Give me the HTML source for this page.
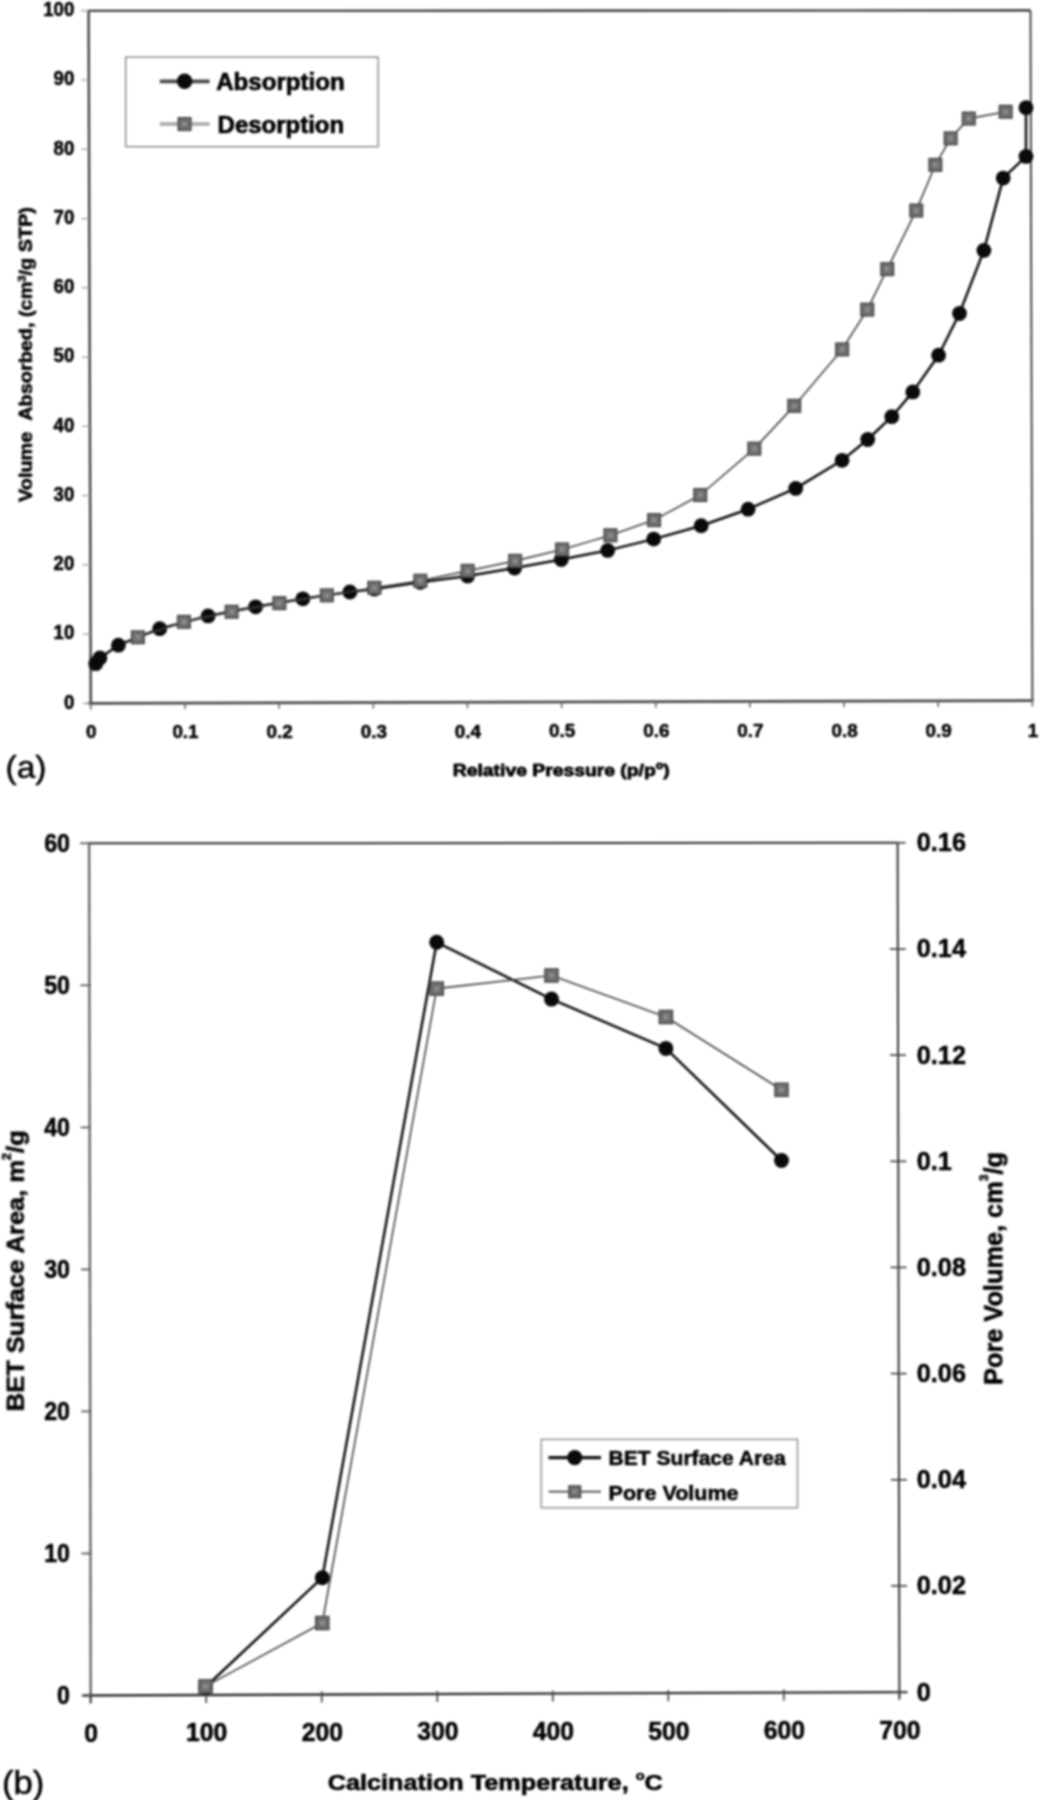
<!DOCTYPE html>
<html lang="en">
<head>
<meta charset="utf-8">
<title>Figure: adsorption isotherm and BET surface area</title>
<style>
html,body{margin:0;padding:0;background:#fff;}
body{width:1054px;height:1800px;overflow:hidden;}
svg{display:block;font-family:'Liberation Sans', Arial, sans-serif;}
</style>
</head>
<body>
<svg width="1054" height="1800" viewBox="0 0 1054 1800">
<defs><filter id="soft" color-interpolation-filters="sRGB" x="-2%" y="-2%" width="104%" height="104%"><feGaussianBlur stdDeviation="0.95"/></filter></defs>
<rect width="1054" height="1800" fill="#fff"/>
<g filter="url(#soft)">
<line x1="88.9" y1="10.8" x2="1030.5" y2="10.4" stroke="#262626" stroke-width="2.1"/>
<line x1="1030.5" y1="10.4" x2="1032.4" y2="700.6" stroke="#333" stroke-width="1.8"/>
<line x1="87.8" y1="703.4" x2="1033.4" y2="700.6" stroke="#4a4a4a" stroke-width="2.8"/>
<line x1="88.6" y1="9.8" x2="90.8" y2="704.4" stroke="#454545" stroke-width="2.5"/>
<line x1="82.8" y1="703.4" x2="90.8" y2="703.4" stroke="#999" stroke-width="1.2"/>
<text transform="translate(74.3,708.6) scale(0.930,1)" font-size="20" font-weight="bold" text-anchor="end" fill="#000" stroke="#000" stroke-width="0.5" stroke-linejoin="round">0</text>
<line x1="82.6" y1="634.1" x2="90.6" y2="634.1" stroke="#999" stroke-width="1.2"/>
<text transform="translate(74.3,639.3) scale(0.930,1)" font-size="20" font-weight="bold" text-anchor="end" fill="#000" stroke="#000" stroke-width="0.5" stroke-linejoin="round">10</text>
<line x1="82.4" y1="564.9" x2="90.4" y2="564.9" stroke="#999" stroke-width="1.2"/>
<text transform="translate(74.3,570.1) scale(0.930,1)" font-size="20" font-weight="bold" text-anchor="end" fill="#000" stroke="#000" stroke-width="0.5" stroke-linejoin="round">20</text>
<line x1="82.2" y1="495.6" x2="90.2" y2="495.6" stroke="#999" stroke-width="1.2"/>
<text transform="translate(74.3,500.8) scale(0.930,1)" font-size="20" font-weight="bold" text-anchor="end" fill="#000" stroke="#000" stroke-width="0.5" stroke-linejoin="round">30</text>
<line x1="82.0" y1="426.4" x2="90.0" y2="426.4" stroke="#999" stroke-width="1.2"/>
<text transform="translate(74.3,431.6) scale(0.930,1)" font-size="20" font-weight="bold" text-anchor="end" fill="#000" stroke="#000" stroke-width="0.5" stroke-linejoin="round">40</text>
<line x1="81.8" y1="357.1" x2="89.8" y2="357.1" stroke="#999" stroke-width="1.2"/>
<text transform="translate(74.3,362.3) scale(0.930,1)" font-size="20" font-weight="bold" text-anchor="end" fill="#000" stroke="#000" stroke-width="0.5" stroke-linejoin="round">50</text>
<line x1="81.7" y1="287.8" x2="89.7" y2="287.8" stroke="#999" stroke-width="1.2"/>
<text transform="translate(74.3,293.0) scale(0.930,1)" font-size="20" font-weight="bold" text-anchor="end" fill="#000" stroke="#000" stroke-width="0.5" stroke-linejoin="round">60</text>
<line x1="81.5" y1="218.6" x2="89.5" y2="218.6" stroke="#999" stroke-width="1.2"/>
<text transform="translate(74.3,223.8) scale(0.930,1)" font-size="20" font-weight="bold" text-anchor="end" fill="#000" stroke="#000" stroke-width="0.5" stroke-linejoin="round">70</text>
<line x1="81.3" y1="149.3" x2="89.3" y2="149.3" stroke="#999" stroke-width="1.2"/>
<text transform="translate(74.3,154.5) scale(0.930,1)" font-size="20" font-weight="bold" text-anchor="end" fill="#000" stroke="#000" stroke-width="0.5" stroke-linejoin="round">80</text>
<line x1="81.1" y1="80.1" x2="89.1" y2="80.1" stroke="#999" stroke-width="1.2"/>
<text transform="translate(74.3,85.3) scale(0.930,1)" font-size="20" font-weight="bold" text-anchor="end" fill="#000" stroke="#000" stroke-width="0.5" stroke-linejoin="round">90</text>
<line x1="80.9" y1="10.8" x2="88.9" y2="10.8" stroke="#999" stroke-width="1.2"/>
<text transform="translate(74.3,16.0) scale(0.930,1)" font-size="20" font-weight="bold" text-anchor="end" fill="#000" stroke="#000" stroke-width="0.5" stroke-linejoin="round">100</text>
<line x1="90.8" y1="703.4" x2="90.8" y2="709.4" stroke="#666" stroke-width="1.6"/>
<text transform="translate(91.3,737.8) scale(1.020,1)" font-size="18.5" font-weight="bold" text-anchor="middle" fill="#000" stroke="#000" stroke-width="0.5" stroke-linejoin="round">0</text>
<line x1="185.0" y1="703.1" x2="185.0" y2="709.1" stroke="#666" stroke-width="1.6"/>
<text transform="translate(185.5,737.7) scale(1.020,1)" font-size="18.5" font-weight="bold" text-anchor="middle" fill="#000" stroke="#000" stroke-width="0.5" stroke-linejoin="round">0.1</text>
<line x1="279.1" y1="702.8" x2="279.1" y2="708.8" stroke="#666" stroke-width="1.6"/>
<text transform="translate(279.6,737.7) scale(1.020,1)" font-size="18.5" font-weight="bold" text-anchor="middle" fill="#000" stroke="#000" stroke-width="0.5" stroke-linejoin="round">0.2</text>
<line x1="373.3" y1="702.6" x2="373.3" y2="708.6" stroke="#666" stroke-width="1.6"/>
<text transform="translate(373.8,737.6) scale(1.020,1)" font-size="18.5" font-weight="bold" text-anchor="middle" fill="#000" stroke="#000" stroke-width="0.5" stroke-linejoin="round">0.3</text>
<line x1="467.4" y1="702.3" x2="467.4" y2="708.3" stroke="#666" stroke-width="1.6"/>
<text transform="translate(467.9,737.5) scale(1.020,1)" font-size="18.5" font-weight="bold" text-anchor="middle" fill="#000" stroke="#000" stroke-width="0.5" stroke-linejoin="round">0.4</text>
<line x1="561.6" y1="702.0" x2="561.6" y2="708.0" stroke="#666" stroke-width="1.6"/>
<text transform="translate(562.1,737.4) scale(1.020,1)" font-size="18.5" font-weight="bold" text-anchor="middle" fill="#000" stroke="#000" stroke-width="0.5" stroke-linejoin="round">0.5</text>
<line x1="655.8" y1="701.7" x2="655.8" y2="707.7" stroke="#666" stroke-width="1.6"/>
<text transform="translate(656.3,737.4) scale(1.020,1)" font-size="18.5" font-weight="bold" text-anchor="middle" fill="#000" stroke="#000" stroke-width="0.5" stroke-linejoin="round">0.6</text>
<line x1="749.9" y1="701.4" x2="749.9" y2="707.4" stroke="#666" stroke-width="1.6"/>
<text transform="translate(750.4,737.3) scale(1.020,1)" font-size="18.5" font-weight="bold" text-anchor="middle" fill="#000" stroke="#000" stroke-width="0.5" stroke-linejoin="round">0.7</text>
<line x1="844.1" y1="701.2" x2="844.1" y2="707.2" stroke="#666" stroke-width="1.6"/>
<text transform="translate(844.6,737.2) scale(1.020,1)" font-size="18.5" font-weight="bold" text-anchor="middle" fill="#000" stroke="#000" stroke-width="0.5" stroke-linejoin="round">0.8</text>
<line x1="938.2" y1="700.9" x2="938.2" y2="706.9" stroke="#666" stroke-width="1.6"/>
<text transform="translate(938.7,737.2) scale(1.020,1)" font-size="18.5" font-weight="bold" text-anchor="middle" fill="#000" stroke="#000" stroke-width="0.5" stroke-linejoin="round">0.9</text>
<line x1="1032.4" y1="700.6" x2="1032.4" y2="706.6" stroke="#666" stroke-width="1.6"/>
<text transform="translate(1032.9,737.1) scale(1.020,1)" font-size="18.5" font-weight="bold" text-anchor="middle" fill="#000" stroke="#000" stroke-width="0.5" stroke-linejoin="round">1</text>
<text transform="translate(31.8,502.0) rotate(-90)" font-size="17.5" font-weight="bold" text-anchor="start" fill="#000" stroke="#000" stroke-width="0.6" stroke-linejoin="round" textLength="295" lengthAdjust="spacingAndGlyphs">Volume&#160;&#160;Absorbed, (cm<tspan font-size="10" dy="-6">3</tspan><tspan dy="6">/g STP)</tspan></text>
<text transform="translate(452.8,775.8)" font-size="17.2" font-weight="bold" text-anchor="start" fill="#000" stroke="#000" stroke-width="0.8" stroke-linejoin="round" textLength="217" lengthAdjust="spacingAndGlyphs">Relative Pressure (p/p<tspan font-size="11" dy="-7">o</tspan><tspan dy="7">)</tspan></text>
<text transform="translate(5.5,778.0) scale(1.050,1)" font-size="32" font-weight="normal" text-anchor="start" fill="#000" stroke="#000" stroke-width="0.5" stroke-linejoin="round">(a)</text>
<polyline fill="none" stroke="#0c0c0c" stroke-width="2.5" stroke-linejoin="round" points="95.7,663.7 99.9,658.0 118.4,645.2 159.7,628.7 208.1,615.9 255.6,606.8 302.9,598.8 349.9,592.0 374.4,589.0 420.3,582.3 467.6,576.0 514.6,568.0 561.3,559.5 607.7,550.4 653.7,539.1 701.2,525.7 748.1,509.2 795.7,488.4 842.1,460.3 867.7,439.5 891.8,416.7 912.8,391.9 938.6,355.2 959.5,313.5 983.9,250.4 1003.2,178.1 1026.0,156.4 1026.0,107.7"/>
<circle cx="95.7" cy="663.7" r="7.4" fill="#0a0a0a"/>
<circle cx="99.9" cy="658.0" r="7.4" fill="#0a0a0a"/>
<circle cx="118.4" cy="645.2" r="7.4" fill="#0a0a0a"/>
<circle cx="159.7" cy="628.7" r="7.4" fill="#0a0a0a"/>
<circle cx="208.1" cy="615.9" r="7.4" fill="#0a0a0a"/>
<circle cx="255.6" cy="606.8" r="7.4" fill="#0a0a0a"/>
<circle cx="302.9" cy="598.8" r="7.4" fill="#0a0a0a"/>
<circle cx="349.9" cy="592.0" r="7.4" fill="#0a0a0a"/>
<circle cx="374.4" cy="589.0" r="7.4" fill="#0a0a0a"/>
<circle cx="420.3" cy="582.3" r="7.4" fill="#0a0a0a"/>
<circle cx="467.6" cy="576.0" r="7.4" fill="#0a0a0a"/>
<circle cx="514.6" cy="568.0" r="7.4" fill="#0a0a0a"/>
<circle cx="561.3" cy="559.5" r="7.4" fill="#0a0a0a"/>
<circle cx="607.7" cy="550.4" r="7.4" fill="#0a0a0a"/>
<circle cx="653.7" cy="539.1" r="7.4" fill="#0a0a0a"/>
<circle cx="701.2" cy="525.7" r="7.4" fill="#0a0a0a"/>
<circle cx="748.1" cy="509.2" r="7.4" fill="#0a0a0a"/>
<circle cx="795.7" cy="488.4" r="7.4" fill="#0a0a0a"/>
<circle cx="842.1" cy="460.3" r="7.4" fill="#0a0a0a"/>
<circle cx="867.7" cy="439.5" r="7.4" fill="#0a0a0a"/>
<circle cx="891.8" cy="416.7" r="7.4" fill="#0a0a0a"/>
<circle cx="912.8" cy="391.9" r="7.4" fill="#0a0a0a"/>
<circle cx="938.6" cy="355.2" r="7.4" fill="#0a0a0a"/>
<circle cx="959.5" cy="313.5" r="7.4" fill="#0a0a0a"/>
<circle cx="983.9" cy="250.4" r="7.4" fill="#0a0a0a"/>
<circle cx="1003.2" cy="178.1" r="7.4" fill="#0a0a0a"/>
<circle cx="1026.0" cy="156.4" r="7.4" fill="#0a0a0a"/>
<circle cx="1026.0" cy="107.7" r="7.4" fill="#0a0a0a"/>
<polyline fill="none" stroke="#444" stroke-width="1.6" stroke-linejoin="round" points="137.8,637.3 183.9,621.9 231.7,611.7 279.3,603.1 326.8,595.4 374.4,587.8 420.3,580.8 467.6,570.9 515.1,560.9 562.1,549.5 610.5,535.3 654.0,520.1 700.3,495.0 754.4,448.6 794.2,405.9 842.1,349.5 867.3,309.7 887.2,269.2 916.2,210.6 935.4,164.8 950.6,138.3 968.7,118.6 1005.6,111.8"/>
<rect x="131.6" y="631.0" width="12.5" height="12.5" fill="#707070" stroke="#4c4c4c" stroke-width="1.6"/>
<rect x="135.7" y="635.2" width="4.2" height="4.2" fill="#8e8e8e"/>
<rect x="177.7" y="615.6" width="12.5" height="12.5" fill="#707070" stroke="#4c4c4c" stroke-width="1.6"/>
<rect x="181.8" y="619.8" width="4.2" height="4.2" fill="#8e8e8e"/>
<rect x="225.4" y="605.5" width="12.5" height="12.5" fill="#707070" stroke="#4c4c4c" stroke-width="1.6"/>
<rect x="229.6" y="609.6" width="4.2" height="4.2" fill="#8e8e8e"/>
<rect x="273.1" y="596.9" width="12.5" height="12.5" fill="#707070" stroke="#4c4c4c" stroke-width="1.6"/>
<rect x="277.2" y="601.0" width="4.2" height="4.2" fill="#8e8e8e"/>
<rect x="320.6" y="589.1" width="12.5" height="12.5" fill="#707070" stroke="#4c4c4c" stroke-width="1.6"/>
<rect x="324.7" y="593.3" width="4.2" height="4.2" fill="#8e8e8e"/>
<rect x="368.1" y="581.5" width="12.5" height="12.5" fill="#707070" stroke="#4c4c4c" stroke-width="1.6"/>
<rect x="372.3" y="585.7" width="4.2" height="4.2" fill="#8e8e8e"/>
<rect x="414.1" y="574.5" width="12.5" height="12.5" fill="#707070" stroke="#4c4c4c" stroke-width="1.6"/>
<rect x="418.2" y="578.7" width="4.2" height="4.2" fill="#8e8e8e"/>
<rect x="461.4" y="564.6" width="12.5" height="12.5" fill="#707070" stroke="#4c4c4c" stroke-width="1.6"/>
<rect x="465.5" y="568.8" width="4.2" height="4.2" fill="#8e8e8e"/>
<rect x="508.9" y="554.6" width="12.5" height="12.5" fill="#707070" stroke="#4c4c4c" stroke-width="1.6"/>
<rect x="513.0" y="558.8" width="4.2" height="4.2" fill="#8e8e8e"/>
<rect x="555.9" y="543.2" width="12.5" height="12.5" fill="#707070" stroke="#4c4c4c" stroke-width="1.6"/>
<rect x="560.0" y="547.4" width="4.2" height="4.2" fill="#8e8e8e"/>
<rect x="604.2" y="529.0" width="12.5" height="12.5" fill="#707070" stroke="#4c4c4c" stroke-width="1.6"/>
<rect x="608.4" y="533.2" width="4.2" height="4.2" fill="#8e8e8e"/>
<rect x="647.8" y="513.9" width="12.5" height="12.5" fill="#707070" stroke="#4c4c4c" stroke-width="1.6"/>
<rect x="651.9" y="518.0" width="4.2" height="4.2" fill="#8e8e8e"/>
<rect x="694.0" y="488.8" width="12.5" height="12.5" fill="#707070" stroke="#4c4c4c" stroke-width="1.6"/>
<rect x="698.2" y="492.9" width="4.2" height="4.2" fill="#8e8e8e"/>
<rect x="748.1" y="442.4" width="12.5" height="12.5" fill="#707070" stroke="#4c4c4c" stroke-width="1.6"/>
<rect x="752.3" y="446.5" width="4.2" height="4.2" fill="#8e8e8e"/>
<rect x="788.0" y="399.6" width="12.5" height="12.5" fill="#707070" stroke="#4c4c4c" stroke-width="1.6"/>
<rect x="792.1" y="403.8" width="4.2" height="4.2" fill="#8e8e8e"/>
<rect x="835.9" y="343.2" width="12.5" height="12.5" fill="#707070" stroke="#4c4c4c" stroke-width="1.6"/>
<rect x="840.0" y="347.4" width="4.2" height="4.2" fill="#8e8e8e"/>
<rect x="861.0" y="303.4" width="12.5" height="12.5" fill="#707070" stroke="#4c4c4c" stroke-width="1.6"/>
<rect x="865.2" y="307.6" width="4.2" height="4.2" fill="#8e8e8e"/>
<rect x="881.0" y="262.9" width="12.5" height="12.5" fill="#707070" stroke="#4c4c4c" stroke-width="1.6"/>
<rect x="885.1" y="267.1" width="4.2" height="4.2" fill="#8e8e8e"/>
<rect x="910.0" y="204.3" width="12.5" height="12.5" fill="#707070" stroke="#4c4c4c" stroke-width="1.6"/>
<rect x="914.1" y="208.5" width="4.2" height="4.2" fill="#8e8e8e"/>
<rect x="929.1" y="158.6" width="12.5" height="12.5" fill="#707070" stroke="#4c4c4c" stroke-width="1.6"/>
<rect x="933.3" y="162.7" width="4.2" height="4.2" fill="#8e8e8e"/>
<rect x="944.4" y="132.1" width="12.5" height="12.5" fill="#707070" stroke="#4c4c4c" stroke-width="1.6"/>
<rect x="948.5" y="136.2" width="4.2" height="4.2" fill="#8e8e8e"/>
<rect x="962.5" y="112.3" width="12.5" height="12.5" fill="#707070" stroke="#4c4c4c" stroke-width="1.6"/>
<rect x="966.6" y="116.5" width="4.2" height="4.2" fill="#8e8e8e"/>
<rect x="999.4" y="105.5" width="12.5" height="12.5" fill="#707070" stroke="#4c4c4c" stroke-width="1.6"/>
<rect x="1003.5" y="109.7" width="4.2" height="4.2" fill="#8e8e8e"/>
<rect x="125.7" y="57.1" width="252.4" height="89.6" fill="#fff" stroke="#707070" stroke-width="1.2"/>
<line x1="159.8" y1="81.3" x2="209.6" y2="81.3" stroke="#4a4a4a" stroke-width="3.8"/>
<circle cx="184.6" cy="81.3" r="7.8" fill="#0a0a0a"/>
<text transform="translate(216.2,89.8)" font-size="24" font-weight="bold" text-anchor="start" fill="#000" stroke="#000" stroke-width="0.7" stroke-linejoin="round" textLength="128.5" lengthAdjust="spacingAndGlyphs">Absorption</text>
<line x1="159.8" y1="124.0" x2="209.6" y2="124.0" stroke="#a8a8a8" stroke-width="3.4"/>
<rect x="178.3" y="117.8" width="12.5" height="12.5" fill="#707070" stroke="#4c4c4c" stroke-width="1.6"/>
<rect x="182.5" y="121.9" width="4.2" height="4.2" fill="#8e8e8e"/>
<text transform="translate(217.6,132.6)" font-size="24" font-weight="bold" text-anchor="start" fill="#000" stroke="#000" stroke-width="0.7" stroke-linejoin="round" textLength="126.5" lengthAdjust="spacingAndGlyphs">Desorption</text>
<line x1="89.1" y1="843.3" x2="897.6" y2="842.8" stroke="#2a2a2a" stroke-width="2.0"/>
<line x1="897.6" y1="842.8" x2="899.4" y2="1698.1" stroke="#333" stroke-width="2.0"/>
<line x1="82.7" y1="1695.5" x2="907.4" y2="1692.1" stroke="#2e2e2e" stroke-width="2.4"/>
<line x1="89.1" y1="842.3" x2="90.7" y2="1702.5" stroke="#666" stroke-width="2.4"/>
<line x1="81.7" y1="1695.5" x2="91.7" y2="1695.5" stroke="#555" stroke-width="1.7"/>
<text transform="translate(70.0,1703.9) scale(0.930,1)" font-size="25" font-weight="bold" text-anchor="end" fill="#000" stroke="#000" stroke-width="0.5" stroke-linejoin="round">0</text>
<line x1="81.4" y1="1553.5" x2="91.4" y2="1553.5" stroke="#555" stroke-width="1.7"/>
<text transform="translate(70.0,1561.9) scale(0.930,1)" font-size="25" font-weight="bold" text-anchor="end" fill="#000" stroke="#000" stroke-width="0.5" stroke-linejoin="round">10</text>
<line x1="81.2" y1="1411.4" x2="91.2" y2="1411.4" stroke="#555" stroke-width="1.7"/>
<text transform="translate(70.0,1419.8) scale(0.930,1)" font-size="25" font-weight="bold" text-anchor="end" fill="#000" stroke="#000" stroke-width="0.5" stroke-linejoin="round">20</text>
<line x1="80.9" y1="1269.4" x2="90.9" y2="1269.4" stroke="#555" stroke-width="1.7"/>
<text transform="translate(70.0,1277.8) scale(0.930,1)" font-size="25" font-weight="bold" text-anchor="end" fill="#000" stroke="#000" stroke-width="0.5" stroke-linejoin="round">30</text>
<line x1="80.6" y1="1127.4" x2="90.6" y2="1127.4" stroke="#555" stroke-width="1.7"/>
<text transform="translate(70.0,1135.8) scale(0.930,1)" font-size="25" font-weight="bold" text-anchor="end" fill="#000" stroke="#000" stroke-width="0.5" stroke-linejoin="round">40</text>
<line x1="80.4" y1="985.3" x2="90.4" y2="985.3" stroke="#555" stroke-width="1.7"/>
<text transform="translate(70.0,993.7) scale(0.930,1)" font-size="25" font-weight="bold" text-anchor="end" fill="#000" stroke="#000" stroke-width="0.5" stroke-linejoin="round">50</text>
<line x1="80.1" y1="843.3" x2="90.1" y2="843.3" stroke="#555" stroke-width="1.7"/>
<text transform="translate(70.0,851.7) scale(0.930,1)" font-size="25" font-weight="bold" text-anchor="end" fill="#000" stroke="#000" stroke-width="0.5" stroke-linejoin="round">60</text>
<line x1="891.4" y1="1692.1" x2="907.4" y2="1692.1" stroke="#444" stroke-width="1.7"/>
<text transform="translate(916.8,1700.5) scale(1.010,1)" font-size="25" font-weight="bold" text-anchor="start" fill="#000" stroke="#000" stroke-width="0.5" stroke-linejoin="round">0</text>
<line x1="891.2" y1="1585.9" x2="907.2" y2="1585.9" stroke="#444" stroke-width="1.7"/>
<text transform="translate(916.8,1594.3) scale(1.010,1)" font-size="25" font-weight="bold" text-anchor="start" fill="#000" stroke="#000" stroke-width="0.5" stroke-linejoin="round">0.02</text>
<line x1="891.0" y1="1479.8" x2="907.0" y2="1479.8" stroke="#444" stroke-width="1.7"/>
<text transform="translate(916.8,1488.2) scale(1.010,1)" font-size="25" font-weight="bold" text-anchor="start" fill="#000" stroke="#000" stroke-width="0.5" stroke-linejoin="round">0.04</text>
<line x1="890.7" y1="1373.6" x2="906.7" y2="1373.6" stroke="#444" stroke-width="1.7"/>
<text transform="translate(916.8,1382.0) scale(1.010,1)" font-size="25" font-weight="bold" text-anchor="start" fill="#000" stroke="#000" stroke-width="0.5" stroke-linejoin="round">0.06</text>
<line x1="890.5" y1="1267.4" x2="906.5" y2="1267.4" stroke="#444" stroke-width="1.7"/>
<text transform="translate(916.8,1275.8) scale(1.010,1)" font-size="25" font-weight="bold" text-anchor="start" fill="#000" stroke="#000" stroke-width="0.5" stroke-linejoin="round">0.08</text>
<line x1="890.3" y1="1161.3" x2="906.3" y2="1161.3" stroke="#444" stroke-width="1.7"/>
<text transform="translate(916.8,1169.7) scale(1.010,1)" font-size="25" font-weight="bold" text-anchor="start" fill="#000" stroke="#000" stroke-width="0.5" stroke-linejoin="round">0.1</text>
<line x1="890.0" y1="1055.1" x2="906.0" y2="1055.1" stroke="#444" stroke-width="1.7"/>
<text transform="translate(916.8,1063.5) scale(1.010,1)" font-size="25" font-weight="bold" text-anchor="start" fill="#000" stroke="#000" stroke-width="0.5" stroke-linejoin="round">0.12</text>
<line x1="889.8" y1="949.0" x2="905.8" y2="949.0" stroke="#444" stroke-width="1.7"/>
<text transform="translate(916.8,957.4) scale(1.010,1)" font-size="25" font-weight="bold" text-anchor="start" fill="#000" stroke="#000" stroke-width="0.5" stroke-linejoin="round">0.14</text>
<line x1="889.6" y1="842.8" x2="905.6" y2="842.8" stroke="#444" stroke-width="1.7"/>
<text transform="translate(916.8,851.2) scale(1.010,1)" font-size="25" font-weight="bold" text-anchor="start" fill="#000" stroke="#000" stroke-width="0.5" stroke-linejoin="round">0.16</text>
<line x1="90.7" y1="1692.5" x2="90.7" y2="1703.5" stroke="#444" stroke-width="1.7"/>
<text transform="translate(91.2,1741.6) scale(0.990,1)" font-size="25" font-weight="bold" text-anchor="middle" fill="#000" stroke="#000" stroke-width="0.5" stroke-linejoin="round">0</text>
<line x1="206.2" y1="1692.0" x2="206.2" y2="1703.0" stroke="#444" stroke-width="1.7"/>
<text transform="translate(206.7,1741.2) scale(0.990,1)" font-size="25" font-weight="bold" text-anchor="middle" fill="#000" stroke="#000" stroke-width="0.5" stroke-linejoin="round">100</text>
<line x1="321.8" y1="1691.5" x2="321.8" y2="1702.5" stroke="#444" stroke-width="1.7"/>
<text transform="translate(322.3,1740.7) scale(0.990,1)" font-size="25" font-weight="bold" text-anchor="middle" fill="#000" stroke="#000" stroke-width="0.5" stroke-linejoin="round">200</text>
<line x1="437.3" y1="1691.0" x2="437.3" y2="1702.0" stroke="#444" stroke-width="1.7"/>
<text transform="translate(437.8,1740.3) scale(0.990,1)" font-size="25" font-weight="bold" text-anchor="middle" fill="#000" stroke="#000" stroke-width="0.5" stroke-linejoin="round">300</text>
<line x1="552.8" y1="1690.6" x2="552.8" y2="1701.6" stroke="#444" stroke-width="1.7"/>
<text transform="translate(553.3,1739.9) scale(0.990,1)" font-size="25" font-weight="bold" text-anchor="middle" fill="#000" stroke="#000" stroke-width="0.5" stroke-linejoin="round">400</text>
<line x1="668.3" y1="1690.1" x2="668.3" y2="1701.1" stroke="#444" stroke-width="1.7"/>
<text transform="translate(668.8,1739.5) scale(0.990,1)" font-size="25" font-weight="bold" text-anchor="middle" fill="#000" stroke="#000" stroke-width="0.5" stroke-linejoin="round">500</text>
<line x1="783.9" y1="1689.6" x2="783.9" y2="1700.6" stroke="#444" stroke-width="1.7"/>
<text transform="translate(784.4,1739.0) scale(0.990,1)" font-size="25" font-weight="bold" text-anchor="middle" fill="#000" stroke="#000" stroke-width="0.5" stroke-linejoin="round">600</text>
<line x1="899.4" y1="1689.1" x2="899.4" y2="1700.1" stroke="#444" stroke-width="1.7"/>
<text transform="translate(899.9,1738.6) scale(0.990,1)" font-size="25" font-weight="bold" text-anchor="middle" fill="#000" stroke="#000" stroke-width="0.5" stroke-linejoin="round">700</text>
<text transform="translate(23.8,1411.3) rotate(-90)" font-size="24.5" font-weight="bold" text-anchor="start" fill="#000" stroke="#000" stroke-width="0.6" stroke-linejoin="round" textLength="281" lengthAdjust="spacingAndGlyphs">BET Surface Area, m<tspan font-size="12" dy="-13">2</tspan><tspan dy="13">/g</tspan></text>
<text transform="translate(1002.3,1385.0) rotate(-90)" font-size="25" font-weight="bold" text-anchor="start" fill="#000" stroke="#000" stroke-width="0.6" stroke-linejoin="round" textLength="233" lengthAdjust="spacingAndGlyphs">Pore Volume, cm<tspan font-size="12" dy="-14">3</tspan><tspan dy="14">/g</tspan></text>
<text transform="translate(327.8,1789.6)" font-size="22.5" font-weight="bold" text-anchor="start" fill="#000" stroke="#000" stroke-width="0.6" stroke-linejoin="round" textLength="335" lengthAdjust="spacingAndGlyphs">Calcination Temperature, <tspan font-size="13" dy="-10">o</tspan><tspan dy="10">C</tspan></text>
<text transform="translate(2.0,1794.0) scale(1.050,1)" font-size="33" font-weight="normal" text-anchor="start" fill="#000" stroke="#000" stroke-width="0.5" stroke-linejoin="round">(b)</text>
<polyline fill="none" stroke="#0c0c0c" stroke-width="2.5" stroke-linejoin="round" points="205.5,1687.0 322.3,1577.7 436.7,942.3 551.5,999.1 665.9,1048.4 781.5,1160.5"/>
<circle cx="205.5" cy="1687.0" r="7.5" fill="#0a0a0a"/>
<circle cx="322.3" cy="1577.7" r="7.5" fill="#0a0a0a"/>
<circle cx="436.7" cy="942.3" r="7.5" fill="#0a0a0a"/>
<circle cx="551.5" cy="999.1" r="7.5" fill="#0a0a0a"/>
<circle cx="665.9" cy="1048.4" r="7.5" fill="#0a0a0a"/>
<circle cx="781.5" cy="1160.5" r="7.5" fill="#0a0a0a"/>
<polyline fill="none" stroke="#444" stroke-width="1.6" stroke-linejoin="round" points="205.5,1686.4 322.3,1623.0 436.7,988.6 551.5,975.5 665.9,1017.0 781.5,1089.8"/>
<rect x="199.0" y="1679.9" width="13" height="13" fill="#707070" stroke="#4c4c4c" stroke-width="1.6"/>
<rect x="203.3" y="1684.2" width="4.4" height="4.4" fill="#8e8e8e"/>
<rect x="315.8" y="1616.5" width="13" height="13" fill="#707070" stroke="#4c4c4c" stroke-width="1.6"/>
<rect x="320.1" y="1620.8" width="4.4" height="4.4" fill="#8e8e8e"/>
<rect x="430.2" y="982.1" width="13" height="13" fill="#707070" stroke="#4c4c4c" stroke-width="1.6"/>
<rect x="434.5" y="986.4" width="4.4" height="4.4" fill="#8e8e8e"/>
<rect x="545.0" y="969.0" width="13" height="13" fill="#707070" stroke="#4c4c4c" stroke-width="1.6"/>
<rect x="549.3" y="973.3" width="4.4" height="4.4" fill="#8e8e8e"/>
<rect x="659.4" y="1010.5" width="13" height="13" fill="#707070" stroke="#4c4c4c" stroke-width="1.6"/>
<rect x="663.7" y="1014.8" width="4.4" height="4.4" fill="#8e8e8e"/>
<rect x="775.0" y="1083.3" width="13" height="13" fill="#707070" stroke="#4c4c4c" stroke-width="1.6"/>
<rect x="779.3" y="1087.6" width="4.4" height="4.4" fill="#8e8e8e"/>
<rect x="541.3" y="1439.4" width="256.2" height="68.3" fill="#fff" stroke="#8a8a8a" stroke-width="1.4"/>
<line x1="548.5" y1="1457.6" x2="601.0" y2="1457.6" stroke="#111" stroke-width="3.4"/>
<circle cx="574.7" cy="1457.6" r="7.6" fill="#0a0a0a"/>
<text transform="translate(608.6,1465.4)" font-size="21" font-weight="bold" text-anchor="start" fill="#000" stroke="#000" stroke-width="0.55" stroke-linejoin="round" textLength="177" lengthAdjust="spacingAndGlyphs">BET Surface Area</text>
<line x1="548.5" y1="1491.7" x2="601.0" y2="1491.7" stroke="#444" stroke-width="1.8"/>
<rect x="569.0" y="1486.0" width="11.5" height="11.5" fill="#707070" stroke="#4c4c4c" stroke-width="1.6"/>
<rect x="572.7" y="1489.7" width="3.9" height="3.9" fill="#8e8e8e"/>
<text transform="translate(608.6,1499.5)" font-size="21" font-weight="bold" text-anchor="start" fill="#000" stroke="#000" stroke-width="0.55" stroke-linejoin="round" textLength="130" lengthAdjust="spacingAndGlyphs">Pore Volume</text>
</g>
</svg>
</body>
</html>
